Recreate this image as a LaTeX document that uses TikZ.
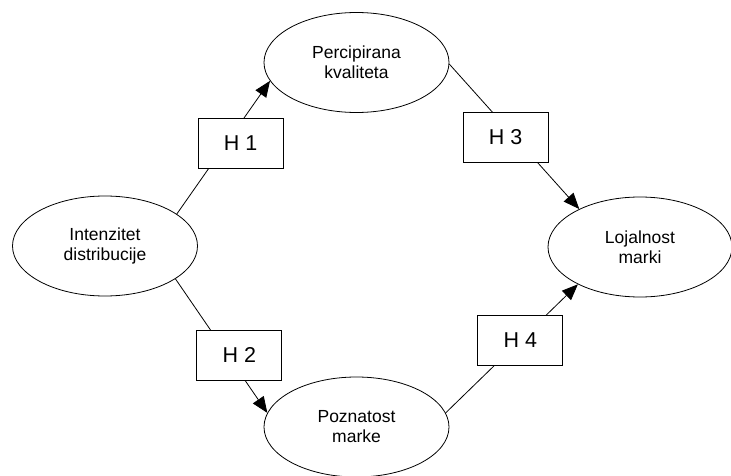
\documentclass[tikz,border=0pt]{standalone}
\usepackage{fontspec}
\setmainfont{Liberation Sans}
\usetikzlibrary{arrows.meta,shapes.geometric}
\begin{document}
\begin{tikzpicture}[
		x=1pt, y=-1pt,
		>={Triangle[length=16pt,width=13pt]},
		construct/.style={
				ellipse,
				draw=black,
				line width=0.8pt,
				minimum width=185pt,
				minimum height=100pt,
				inner sep=0pt,
				align=center,
				font=\fontsize{17.5}{20}\selectfont
			},
		hyp/.style={
				rectangle,
				draw=black,
				fill=white,
				line width=0.8pt,
				minimum width=85pt,
				minimum height=50pt,
				font=\fontsize{21.5}{24}\selectfont
			},
		link/.style={->, line width=0.8pt}
	]
	\useasboundingbox (0,0) rectangle (731,476);

	% Nodes
	\node[construct] (intenz) at (105,246) {Intenzitet \\ distribucije};
	\node[construct] (perc) at (356.5,62.5) {Percipirana \\ kvaliteta};
	\node[construct] (pozn) at (356.5,427) {Poznatost \\ marke};
	\node[construct, minimum width=184pt] (loj) at (640,247) {Lojalnost \\ marki};

	% Arrows
	\draw[link] (intenz.24) -- node[hyp, pos=0.53, xshift=14.5pt] (h1) {H 1} (perc.192);
	\draw[link] (intenz.-25) -- node[hyp, pos=0.568, xshift=11.7pt] (h2) {H 2} (pozn.171);
	\draw[link] (perc.-1) -- node[hyp, pos=0.503, xshift=-9pt] (h3) {H 3} (loj.148);
	\draw[link] (pozn.9) -- node[hyp, pos=0.564] (h4) {H 4} (loj.211);

\end{tikzpicture}
\end{document}
